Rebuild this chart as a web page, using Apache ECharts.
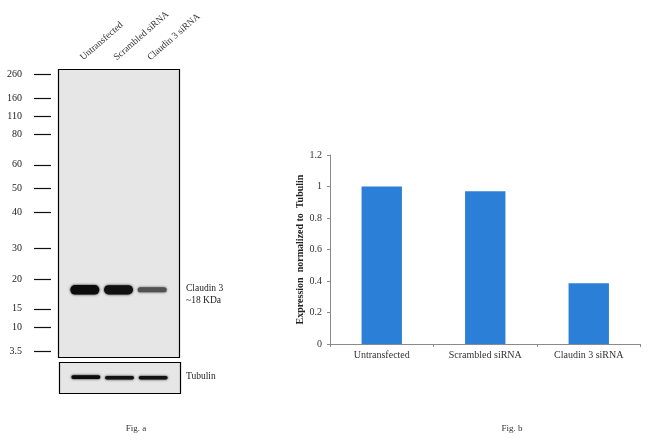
<!DOCTYPE html>
<html><head><meta charset="utf-8">
<script src="https://cdn.jsdelivr.net/npm/echarts@6/dist/echarts.min.js"></script>
<style>html,body{margin:0;padding:0;background:#fff}#c{width:650px;height:443px}</style>
</head><body><div id="c"></div>
<script>
// ---- data ----
const lanes = ['Untransfected', 'Scrambled siRNA', 'Claudin 3 siRNA'];
const expression = [1.0, 0.97, 0.385];
const markerLabels = ['260', '160', '110', '80', '60', '50', '40', '30', '20', '15', '10', '3.5'];
const markerMigration = [0.017, 0.101, 0.163, 0.225, 0.331, 0.412, 0.497, 0.622, 0.727, 0.831, 0.894, 0.979];
const claudinMigration = [0.765, 0.765, 0.765];
const claudinIntensity = [1.0, 0.96, 0.45];
const tubulinPosition = [0.47, 0.49, 0.49];
const tubulinIntensity = [1.0, 0.95, 0.95];

const serif = "'Liberation Serif', 'DejaVu Serif', serif";
const chart = echarts.init(document.getElementById('c'));

function bandItem(params, api, baseH, extraH) {
  const i = api.value(0);
  const c = api.coord([i, api.value(1)]);
  const inten = api.value(2);
  const w = api.size([1, 0])[0] * 0.86;
  const h = baseH + extraH * inten;
  const g = Math.round(140 - 128 * inten);
  const col = 'rgb(' + g + ',' + g + ',' + g + ')';
  return {
    type: 'rect',
    shape: { x: c[0] - w / 2, y: c[1] - h / 2, width: w, height: h, r: h / 2 },
    style: { fill: col, shadowBlur: 2.5, shadowColor: col }
  };
}

chart.setOption({
  animation: false,
  backgroundColor: '#fff',
  title: [
    { text: 'Fig. a', left: 131, top: 419, textAlign: 'center',
      textStyle: { fontFamily: serif, fontSize: 9, fontWeight: 'normal', color: '#333' } },
    { text: 'Fig. b', left: 507, top: 419, textAlign: 'center',
      textStyle: { fontFamily: serif, fontSize: 9, fontWeight: 'normal', color: '#333' } }
  ],
  graphic: [
    { type: 'rect', shape: { x: 58.5, y: 69.5, width: 121, height: 288 },
      style: { fill: '#e6e6e6', stroke: '#000', lineWidth: 1.2 } },
    { type: 'rect', shape: { x: 59.5, y: 362.5, width: 121, height: 31 },
      style: { fill: '#e6e6e6', stroke: '#000', lineWidth: 1.2 } },
    { type: 'text', left: 186, top: 282,
      style: { text: 'Claudin 3\n~18 KDa', font: '9.5px ' + serif, fill: '#222', lineHeight: 12 } },
    { type: 'text', left: 186, top: 371,
      style: { text: 'Tubulin', font: '9.5px ' + serif, fill: '#222' } }
  ],
  grid: [
    { left: 330, top: 155, width: 310.5, height: 189 },
    { left: 68, top: 69.5, width: 101, height: 288 },
    { left: 69, top: 362.5, width: 101, height: 31 }
  ],
  xAxis: [
    { type: 'category', gridIndex: 0, data: lanes,
      axisLine: { lineStyle: { color: '#8a8a8a' } },
      axisTick: { show: true, length: 3, lineStyle: { color: '#8a8a8a' } },
      axisLabel: { fontFamily: serif, fontSize: 10, color: '#333', margin: 6 } },
    { type: 'category', gridIndex: 1, data: lanes, position: 'top',
      axisLine: { show: false }, axisTick: { show: false },
      axisLabel: { rotate: 41, fontFamily: serif, fontSize: 9.5, color: '#333', margin: 7,
        verticalAlign: 'bottom' } },
    { type: 'category', gridIndex: 2, data: lanes, show: false }
  ],
  yAxis: [
    { type: 'value', gridIndex: 0, min: 0, max: 1.2, interval: 0.2,
      name: 'Expression  normalized to  Tubulin', nameLocation: 'middle', nameGap: 19,
      nameTextStyle: { fontFamily: serif, fontSize: 10, fontWeight: 'bold', color: '#222' },
      splitLine: { show: false },
      axisLine: { show: true, lineStyle: { color: '#8a8a8a' } },
      axisTick: { show: true, length: 3, lineStyle: { color: '#8a8a8a' } },
      axisLabel: { fontFamily: serif, fontSize: 10, color: '#333', margin: 8 } },
    { type: 'value', gridIndex: 1, min: 0, max: 1, inverse: true,
      offset: 17, splitLine: { show: false },
      axisLine: { show: false },
      axisTick: { show: true, length: 17, customValues: markerMigration,
        lineStyle: { color: '#111', width: 1.2 } },
      axisLabel: { customValues: markerMigration, fontFamily: serif, fontSize: 10, color: '#222', margin: 29,
        formatter: function (v) {
          let best = 0;
          markerMigration.forEach(function (m, i) { if (Math.abs(m - v) < Math.abs(markerMigration[best] - v)) best = i; });
          return markerLabels[best];
        } } },
    { type: 'value', gridIndex: 2, min: 0, max: 1, inverse: true, show: false }
  ],
  series: [
    { type: 'bar', xAxisIndex: 0, yAxisIndex: 0, data: expression, barWidth: '39%',
      itemStyle: { color: '#2b7fd6' } },
    { type: 'custom', xAxisIndex: 1, yAxisIndex: 1,
      data: lanes.map(function (l, i) { return [i, claudinMigration[i], claudinIntensity[i]]; }),
      renderItem: function (p, api) { return bandItem(p, api, 1.5, 8); } },
    { type: 'custom', xAxisIndex: 2, yAxisIndex: 2,
      data: lanes.map(function (l, i) { return [i, tubulinPosition[i], tubulinIntensity[i]]; }),
      renderItem: function (p, api) { return bandItem(p, api, 1.5, 2.2); } }
  ]
});
</script></body></html>
